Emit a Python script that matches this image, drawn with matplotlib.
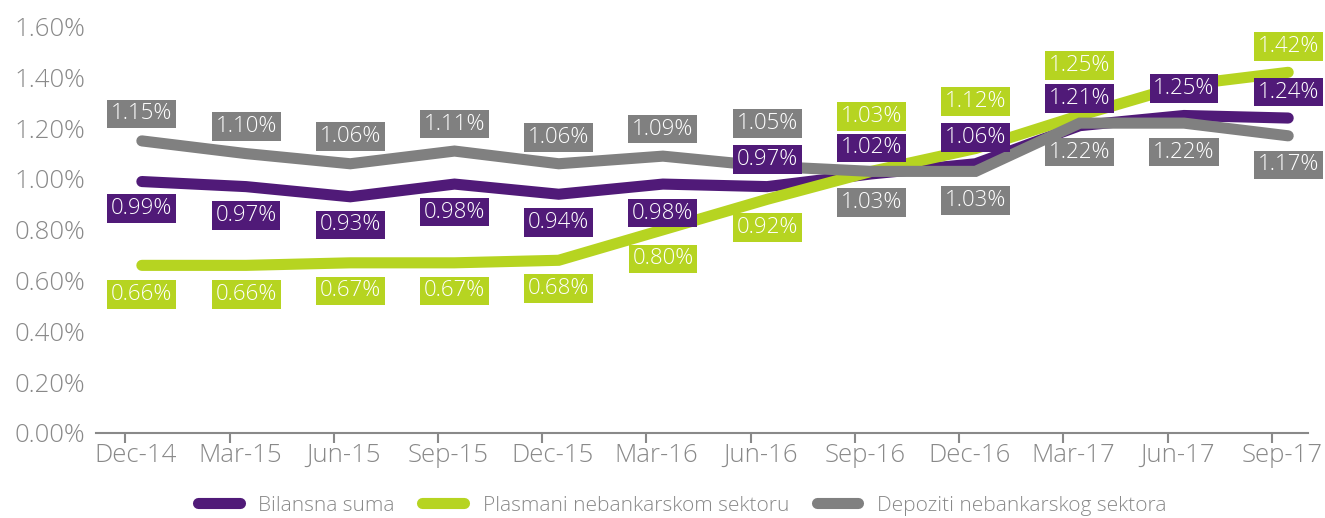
import matplotlib
matplotlib.use("Agg")
import matplotlib.pyplot as plt
from matplotlib.font_manager import FontProperties
from matplotlib.ticker import FixedLocator, FuncFormatter, NullFormatter

# ---------------- data ----------------
categories = ["Dec-14", "Mar-15", "Jun-15", "Sep-15", "Dec-15", "Mar-16",
              "Jun-16", "Sep-16", "Dec-16", "Mar-17", "Jun-17", "Sep-17"]
bilansna = [0.99, 0.97, 0.93, 0.98, 0.94, 0.98, 0.97, 1.02, 1.06, 1.21, 1.25, 1.24]
plasmani = [0.66, 0.66, 0.67, 0.67, 0.68, 0.80, 0.92, 1.03, 1.12, 1.25, 1.37, 1.42]
depoziti = [1.15, 1.10, 1.06, 1.11, 1.06, 1.09, 1.05, 1.03, 1.03, 1.22, 1.22, 1.17]
series_names = ["Bilansna suma", "Plasmani nebankarskom sektoru", "Depoziti nebankarskog sektora"]
y_ticks = [0.0, 0.2, 0.4, 0.6, 0.8, 1.0, 1.2, 1.4, 1.6]

# label placement (pixel offsets, positive = below the point; None = hidden)
off_bil = [27, 29, 28, 28, 28, 29, -27, -26, -26, -27, -27, -26]
off_pla = [29, 29, 28, 28, 28, 29, 28, -55, -47, -50, None, -26]
off_dep = [-27, -27, -27, -27, -26, -27, -43, 31, 29, 29, 29, 29]

c_pur = "#501a78"
c_lim = "#b6d421"
c_gry = "#808080"
c_txt = "#898989"

fp_tick = FontProperties(family="Open Sans", weight=300, size=18.5)
fp_lab = FontProperties(family="Open Sans", weight=300, size=16)
fp_leg = FontProperties(family="Open Sans", weight=300, size=15)

fig = plt.figure(figsize=(13.25, 5.18), dpi=100)
ax = fig.add_axes([96 / 1325, (518 - 433) / 518, (1308 - 96) / 1325, (433 - 26.6) / 518])

x = list(range(len(categories)))
lw = 8
l1, = ax.plot(x, bilansna, color=c_pur, lw=lw, solid_capstyle="round", solid_joinstyle="miter", zorder=2, label=series_names[0])
l2, = ax.plot(x, plasmani, color=c_lim, lw=lw, solid_capstyle="round", solid_joinstyle="miter", zorder=3, label=series_names[1])
l3, = ax.plot(x, depoziti, color=c_gry, lw=lw, solid_capstyle="round", solid_joinstyle="miter", zorder=4, label=series_names[2])

ax.set_xlim(-0.44, 11.19)
ax.set_ylim(0, 1.6)

for vals, offs, col in [(bilansna, off_bil, c_pur), (plasmani, off_pla, c_lim), (depoziti, off_dep, c_gry)]:
    for xi, v, o in zip(x, vals, offs):
        if o is None:
            continue
        ax.annotate("%.2f%%" % v, (xi, v), xytext=(0, -o * 0.72), textcoords="offset points",
                    ha="center", va="center", color="white", fontproperties=fp_lab,
                    bbox=dict(boxstyle="square,pad=0.17", fc=col, ec="none"), zorder=10,
                    annotation_clip=False)

# axes styling
for s in ["top", "right", "left"]:
    ax.spines[s].set_visible(False)
ax.spines["bottom"].set_color(c_txt)
ax.spines["bottom"].set_linewidth(1.5)

ax.yaxis.set_major_locator(FixedLocator(y_ticks))
ax.yaxis.set_major_formatter(FuncFormatter(lambda v, p: "%.2f%%" % v))
ax.tick_params(axis="y", length=0, pad=8, colors=c_txt)
for t in ax.get_yticklabels():
    t.set_fontproperties(fp_tick)

# tick marks slightly left of points, labels near points (as in the reference)
ax.xaxis.set_major_locator(FixedLocator([i - 0.158 for i in x]))
ax.xaxis.set_major_formatter(NullFormatter())
ax.xaxis.set_minor_locator(FixedLocator([i - 0.06 for i in x]))
ax.xaxis.set_minor_formatter(FuncFormatter(lambda v, p: categories[int(round(v + 0.06))]))
ax.tick_params(axis="x", which="major", length=7, width=1.5, color=c_txt)
ax.tick_params(axis="x", which="minor", length=0, pad=7, labelcolor=c_txt)
for t in ax.xaxis.get_minorticklabels():
    t.set_fontproperties(fp_tick)

leg = fig.legend(handles=[l1, l2, l3], loc="center", bbox_to_anchor=(0.515, 0.024), ncol=3,
                 frameon=False, prop=fp_leg, handlelength=2.0, handletextpad=0.9,
                 columnspacing=1.32, borderaxespad=0, borderpad=0)
for t in leg.get_texts():
    t.set_color(c_txt)

fig.savefig("out.png", dpi=100)
